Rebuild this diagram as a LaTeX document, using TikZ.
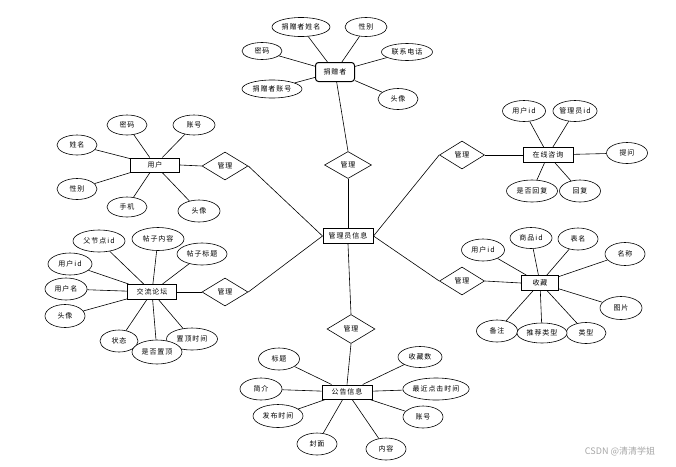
\documentclass[tikz,border=0pt]{standalone}
\usepackage{fontspec}
\newfontfamily\cjk[LetterSpace=14]{Noto Sans CJK SC}
\newfontfamily\wmfont{Noto Sans CJK SC}
\usetikzlibrary{shapes.geometric}
\begin{document}
\begin{tikzpicture}[x=1pt,y=-1pt,
  every node/.style={font=\cjk\fontsize{7}{8}\selectfont, inner sep=0pt},
  attr/.style={draw, ellipse, fill=white, line width=0.6pt, minimum width=41pt, minimum height=21pt},
  entity/.style={draw, rectangle, fill=white, line width=1pt, minimum width=50pt, minimum height=15pt},
  rel/.style={draw, diamond, fill=white, line width=0.6pt, minimum width=46pt, minimum height=28pt},
  conn/.style={line width=0.6pt}]
\useasboundingbox (0,0) rectangle (676,466);

% central
\node[entity] (admin) at (348,236) {管理员信息};

% donor
\node[entity, rounded corners=3pt, minimum width=39pt, minimum height=19pt] (d) at (335,72) {捐赠者};
\node[attr, minimum width=58pt, minimum height=19pt] (d1) at (301,27) {捐赠者姓名};
\node[attr, minimum width=42pt, minimum height=19pt] (d2) at (366,27) {性别};
\node[attr, minimum width=40pt, minimum height=17pt] (d3) at (262,51) {密码};
\node[attr, minimum width=51pt, minimum height=17pt] (d4) at (407,52) {联系电话};
\node[attr, minimum width=60pt, minimum height=18pt] (d5) at (272,89) {捐赠者账号};
\node[attr, minimum width=40pt, minimum height=21pt] (d6) at (398,99) {头像};
\node[rel, minimum width=47pt, minimum height=27pt] (r1) at (348,165) {管理};

% consult
\node[entity] (c) at (548,155) {在线咨询};
\node[attr, minimum width=43pt] (c1) at (524,111) {用户id};
\node[attr, minimum width=42pt] (c2) at (575,111) {管理员id};
\node[attr, minimum width=41pt] (c3) at (627,153) {提问};
\node[attr, minimum width=51pt, minimum height=22pt] (c4) at (532,191) {是否回复};
\node[attr, minimum width=41pt, minimum height=22pt] (c5) at (580,191) {回复};
\node[rel, minimum width=45pt] (r2) at (462,155) {管理};

% user
\node[entity, minimum width=49pt, minimum height=14pt] (u) at (155,165) {用户};
\node[attr, minimum width=40pt, minimum height=20pt] (u1) at (127,125) {密码};
\node[attr, minimum width=42pt, minimum height=20pt] (u2) at (194,125) {账号};
\node[attr, minimum width=40pt, minimum height=20pt] (u3) at (77,145) {姓名};
\node[attr, minimum width=40pt, minimum height=21pt] (u4) at (77,189) {性别};
\node[attr, minimum width=40pt, minimum height=20pt] (u5) at (127,207) {手机};
\node[attr, minimum width=42pt, minimum height=22pt] (u6) at (199,211) {头像};
\node[rel] (r3) at (225,166) {管理};

% forum
\node[entity, minimum width=49pt] (f) at (152,292) {交流论坛};
\node[attr, minimum width=52pt, minimum height=22pt] (f1) at (99,241) {父节点id};
\node[attr, minimum width=52pt, minimum height=23pt] (f2) at (158,239) {帖子内容};
\node[attr, minimum width=50pt, minimum height=22pt] (f3) at (202,254) {帖子标题};
\node[attr, minimum width=44pt, minimum height=22pt] (f4) at (70,264) {用户id};
\node[attr, minimum width=42pt, minimum height=22pt] (f5) at (66,289) {用户名};
\node[attr, minimum width=40pt, minimum height=23pt] (f6) at (65,316) {头像};
\node[attr, minimum width=38pt, minimum height=22pt] (f7) at (119,341) {状态};
\node[attr, minimum width=51pt, minimum height=22pt] (f9) at (192,339) {置顶时间};
\node[attr, minimum width=50pt, minimum height=24pt] (f8) at (157,352) {是否置顶};
\node[rel] (r4) at (225,292) {管理};

% collect
\node[entity, minimum width=37pt] (s) at (540,283) {收藏};
\node[attr, minimum width=43pt, minimum height=22pt] (s1) at (483,250) {用户id};
\node[attr, minimum width=42pt, minimum height=21pt] (s2) at (531,238) {商品id};
\node[attr, minimum width=40pt, minimum height=22pt] (s3) at (578,239) {表名};
\node[attr, minimum width=40pt, minimum height=23pt] (s4) at (625,254) {名称};
\node[attr, minimum width=42pt, minimum height=23pt] (s5) at (621,308) {图片};
\node[attr, minimum width=41pt, minimum height=22pt] (s6) at (497,331) {备注};
\node[attr, minimum width=40pt, minimum height=21pt] (s8) at (586,333) {类型};
\node[attr, minimum width=50pt, minimum height=20pt] (s7) at (542,333) {推荐类型};
\node[rel, minimum width=45pt] (r5) at (462,281) {管理};

% notice
\node[entity, minimum height=14pt] (n) at (347,392) {公告信息};
\node[attr, minimum width=41pt, minimum height=22pt] (n1) at (279,359) {标题};
\node[attr, minimum width=42pt, minimum height=22pt] (n2) at (261,389) {简介};
\node[attr, minimum width=50pt, minimum height=23pt] (n3) at (278,416) {发布时间};
\node[attr, minimum width=40pt, minimum height=22pt] (n4) at (317,444) {封面};
\node[attr, minimum width=40pt, minimum height=22pt] (n5) at (386,449) {内容};
\node[attr, minimum width=40pt, minimum height=22pt] (n6) at (423,417) {账号};
\node[attr, minimum width=66pt, minimum height=22pt] (n7) at (436,389) {最近点击时间};
\node[attr, minimum width=44pt, minimum height=21pt] (n8) at (420,357) {收藏数};
\node[rel, minimum width=48pt, minimum height=29pt] (r6) at (351,329) {管理};

% connectors
\foreach \a in {d1,d2,d3,d4,d5,d6} \draw[conn] (d) -- (\a);
\foreach \a in {c1,c2,c3,c4,c5} \draw[conn] (c) -- (\a);
\foreach \a in {u1,u2,u3,u4,u5,u6} \draw[conn] (u) -- (\a);
\foreach \a in {f1,f2,f3,f4,f5,f6,f7,f8,f9} \draw[conn] (f) -- (\a);
\foreach \a in {s1,s2,s3,s4,s5,s6,s7,s8} \draw[conn] (s) -- (\a);
\foreach \a in {n1,n2,n3,n4,n5,n6,n7,n8} \draw[conn] (n) -- (\a);

\draw[conn] (d) -- (r1.north);
\draw[conn] (r1.south) -- (admin.north);
\draw[conn] (r2.east) -- (c.west);
\draw[conn] (r2.west) -- (admin.east);
\draw[conn] (u.east) -- (r3.west);
\draw[conn] (r3.east) -- (admin.west);
\draw[conn] (f.east) -- (r4.west);
\draw[conn] (r4.east) -- (admin.west);
\draw[conn] (r5.east) -- (s.west);
\draw[conn] (r5.west) -- (admin.east);
\draw[conn] (admin.south) -- (r6.north);
\draw[conn] (r6.south) -- (n.north);

% watermark
\node[text=black!35, font=\wmfont\fontsize{9}{10}\selectfont] (wm) at (620,451) {CSDN @清清学姐};
\end{tikzpicture}
\end{document}
